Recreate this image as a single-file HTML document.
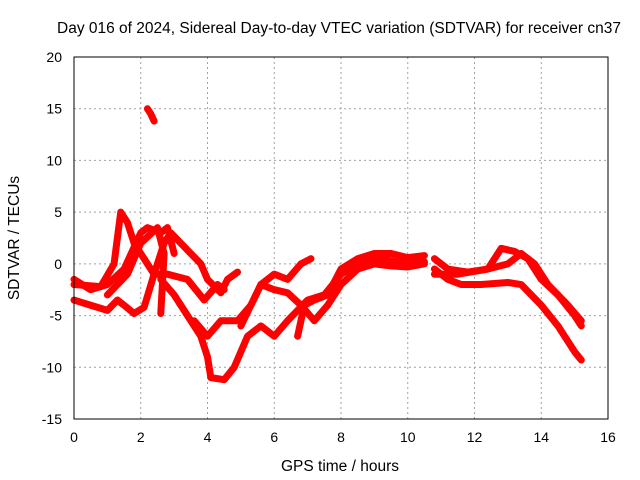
<!DOCTYPE html>
<html><head><meta charset="utf-8"><style>
body{margin:0;background:#fff;}
svg{display:block;font-family:"Liberation Sans",sans-serif;}
</style></head><body>
<svg id="chart" width="640" height="480">
<text x="339" y="33" text-anchor="middle" font-size="15.5">Day 016 of 2024, Sidereal Day-to-day VTEC variation (SDTVAR) for receiver cn37</text>
<text x="340" y="471" text-anchor="middle" font-size="15.5">GPS time / hours</text>
<text transform="translate(19,238) rotate(-90)" text-anchor="middle" font-size="15.5">SDTVAR / TECUs</text>
<g id="grid"></g><g id="ticks"></g><g id="series"></g>
<rect x="74" y="57" width="534" height="362" fill="none" stroke="#000"/>
</svg>
<script>
const xTicks=[0,2,4,6,8,10,12,14,16];
const yTicks=[20,15,10,5,0,-5,-10,-15];
const track1=[[0,-3.5],[0.5,-4],[1.0,-4.5],[1.3,-3.5],[1.5,-4],[1.8,-4.8],[2.1,-4.2],[2.4,-1],[2.7,2],[2.9,3],[3.2,2],[3.8,0],[4.0,-1.5],[4.4,-2.8],[4.6,-1.5],[4.9,-0.8]];
const track2=[[0,-2],[0.8,-2.2],[1.2,0],[1.4,5],[1.6,4],[1.8,2],[2.0,1],[2.4,-1],[2.8,-1],[3.4,-1.5],[3.9,-3.5],[4.3,-2],[4.5,-2.5]];
const track3=[[2.6,-1.5],[3.0,-3],[3.4,-5],[3.8,-7],[4.0,-9],[4.1,-11],[4.5,-11.2],[4.8,-10],[5.2,-7],[5.6,-6],[6.0,-7],[6.4,-5.5],[7.0,-3.5],[7.5,-3],[8.0,-1],[8.5,0],[9.0,0.5],[9.5,0.3],[10.0,0],[10.5,0.2]];
const track4=[[3.6,-5.5],[4.0,-7],[4.4,-5.5],[4.9,-5.5],[5.3,-4],[5.6,-2],[6.0,-2.5],[6.4,-2.8],[6.8,-4],[7.2,-5.5],[7.6,-4],[8.0,-2],[8.5,-0.5],[9,0],[9.5,-0.2],[10,-0.3],[10.5,0]];
const track5=[[5.0,-6],[5.3,-4],[5.6,-2],[6.0,-1],[6.4,-1.5],[6.8,0],[7.1,0.5]];
const track6=[[6.7,-7],[6.9,-4],[7.2,-3.5],[7.6,-3],[8.0,-0.5],[8.5,0.5],[9,1],[9.5,1],[10,0.6],[10.5,0.8]];
const track7=[[10.8,-0.5],[11.2,-1.5],[11.6,-2],[12.2,-2],[13.0,-1.8],[13.4,-2],[14,-4],[14.5,-6],[15.0,-8.5],[15.2,-9.3]];
const track8=[[10.8,0.5],[11.2,-0.5],[11.8,-0.8],[12.4,-0.5],[12.8,1.5],[13.2,1.2],[13.6,0.5],[14.0,-1.5],[14.5,-3],[15.0,-5],[15.2,-6]];
const track9=[[10.8,-1],[11.5,-1],[12.4,-0.5],[13.0,0],[13.4,1],[13.8,0],[14.2,-2],[14.8,-4],[15.2,-5.5]];
const track10=[[0,-1.5],[0.5,-2.5],[1.0,-2],[1.5,-0.5],[2.0,3],[2.2,3.5],[2.6,3],[2.8,3.5],[3.0,1]];
const track11=[[1.0,-3],[1.6,-1],[2.0,2],[2.5,3.5],[2.7,1],[2.6,-4.8]];
const track12=[[2.2,15],[2.3,14.5],[2.4,13.8]];
const tracks=[track1,track2,track3,track4,track5,track6,track7,track8,track9,track10,track11,track12];
const NS="http://www.w3.org/2000/svg";
const X=v=>74+v*(534/16), Y=v=>57+(20-v)*(362/35);
const grid=document.getElementById('grid'),ticks=document.getElementById('ticks'),ser=document.getElementById('series');
function mk(t,a,p){const e=document.createElementNS(NS,t);for(const k in a)e.setAttribute(k,a[k]);p.appendChild(e);return e;}
xTicks.forEach(v=>{
 const l=mk('line',{x1:X(v),x2:X(v),y1:57,y2:419,stroke:'#a0a0a0','stroke-dasharray':'2,3'},grid);
 
 
 const t=mk('text',{x:X(v),y:442,'text-anchor':'middle','font-size':14},ticks);t.textContent=v;
 
 
});
yTicks.forEach(v=>{
 const l=mk('line',{x1:74,x2:608,y1:Y(v),y2:Y(v),stroke:'#a0a0a0','stroke-dasharray':'2,3'},grid);
 
 
 const t=mk('text',{x:62,y:Y(v)+5,'text-anchor':'end','font-size':14},ticks);t.textContent=v;
 
 
});
tracks.forEach(tr=>{
 const p=mk('polyline',{points:tr.map(d=>X(d[0])+','+Y(d[1])).join(' '),fill:'none',stroke:'#ff0000','stroke-width':7,'stroke-linejoin':'round','stroke-linecap':'round'},ser);
 
 
});
</script>
</body></html>
